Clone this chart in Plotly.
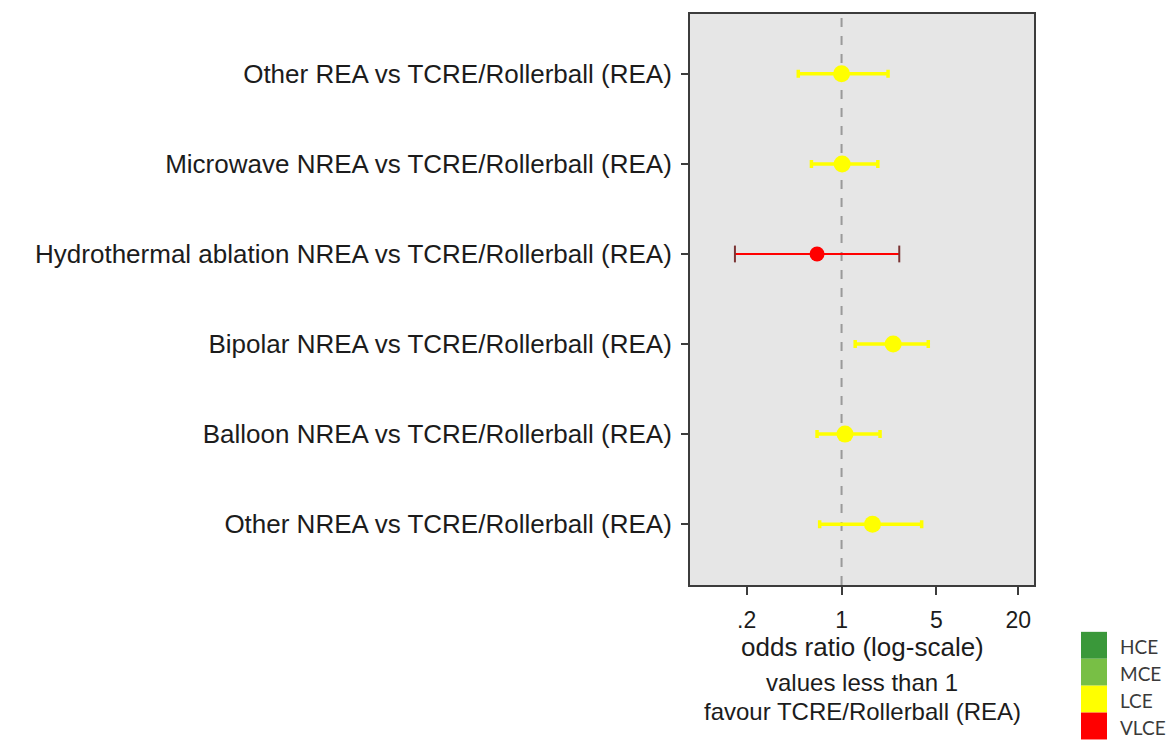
import plotly.graph_objects as go

# Comparisons, listed from bottom row to top row
comparisons = [
    "Other NREA vs TCRE/Rollerball (REA)",
    "Balloon NREA vs TCRE/Rollerball (REA)",
    "Bipolar NREA vs TCRE/Rollerball (REA)",
    "Hydrothermal ablation NREA vs TCRE/Rollerball (REA)",
    "Microwave NREA vs TCRE/Rollerball (REA)",
    "Other REA vs TCRE/Rollerball (REA)",
]
odds_ratio = [1.69, 1.06, 2.40, 0.66, 1.01, 1.00]
ci_lower = [0.69, 0.66, 1.26, 0.164, 0.60, 0.48]
ci_upper = [3.89, 1.92, 4.35, 2.66, 1.85, 2.20]
certainty = ["LCE", "LCE", "LCE", "VLCE", "LCE", "LCE"]

# Certainty-of-evidence key
grade_labels = ["HCE", "MCE", "LCE", "VLCE"]
grade_colors = ["#3a983a", "#78bf45", "#ffff00", "#ff0000"]
grade_color = dict(zip(grade_labels, grade_colors))

x_ticks = [0.2, 1, 5, 20]
x_tick_text = [".2", "1", "5", "20"]
NULL_OR = 1.0

TEXT = "#1c1c1c"
FONT = "Liberation Sans, Arial, sans-serif"

rows = list(range(1, len(comparisons) + 1))
y_range = [0.325, 6.664]

fig = go.Figure()

# reference line at OR = 1
fig.add_trace(go.Scatter(
    x=[NULL_OR, NULL_OR], y=y_range, mode="lines",
    line=dict(color="#9a9a9a", width=2, dash="dash"),
    hoverinfo="skip", showlegend=False,
))

for grade in ["LCE", "VLCE"]:
    idx = [i for i, g in enumerate(certainty) if g == grade]
    if not idx:
        continue
    col = grade_color[grade]
    xs = [odds_ratio[i] for i in idx]
    ys = [rows[i] for i in idx]
    plus = [ci_upper[i] - odds_ratio[i] for i in idx]
    minus = [odds_ratio[i] - ci_lower[i] for i in idx]
    is_red = grade == "VLCE"
    fig.add_trace(go.Scatter(
        x=xs, y=ys, mode="markers",
        marker=dict(color=col, size=15 if is_red else 17, line=dict(width=0)),
        error_x=dict(type="data", symmetric=False, array=plus, arrayminus=minus,
                     color=col, thickness=2 if is_red else 3.5,
                     width=0 if is_red else 4),
        showlegend=False,
    ))
    if is_red:
        # darker end caps on the interval
        fig.add_trace(go.Scatter(
            x=[ci_lower[i] for i in idx] + [ci_upper[i] for i in idx],
            y=ys + ys, mode="markers",
            marker=dict(symbol="line-ns", size=12, color="#7a3434",
                        line=dict(color="#7a3434", width=2)),
            showlegend=False, hoverinfo="skip",
        ))

fig.update_xaxes(
    type="log", range=[-1.116, 1.417],
    tickvals=x_ticks, ticktext=x_tick_text,
    ticks="outside", ticklen=8, tickwidth=1.5, tickcolor="#3c3c3c",
    tickfont=dict(size=23, color=TEXT, family=FONT),
    ticklabelstandoff=5,
    showgrid=False, zeroline=False,
    showline=True, mirror=True, linecolor="#3c3c3c", linewidth=2,
)
fig.update_yaxes(
    range=y_range, tickvals=rows, ticktext=comparisons,
    ticks="outside", ticklen=7, tickwidth=1.5, tickcolor="#3c3c3c",
    tickfont=dict(size=26, color=TEXT, family=FONT),
    ticklabelstandoff=4,
    showgrid=False, zeroline=False,
    showline=True, mirror=True, linecolor="#3c3c3c", linewidth=2,
)

L, R, T, B = 690, 140, 12, 155
W, H = 1174, 740
pw, ph = W - L - R, H - T - B


def px_x(px):
    return (px - L) / pw


def px_y(py):
    return (H - B - py) / ph


annotations = [
    dict(text="odds ratio (log-scale)", x=0.5, y=px_y(647), size=26),
    dict(text="values less than 1", x=0.5, y=px_y(683), size=24),
    dict(text="favour TCRE/Rollerball (REA)", x=0.5, y=px_y(712), size=24),
]
annotations = [dict(text=a["text"], x=a["x"], y=a["y"],
                    xref="paper", yref="paper", showarrow=False,
                    xanchor="center", yanchor="middle",
                    font=dict(size=a["size"], color=TEXT, family=FONT))
               for a in annotations]

shapes = []
block_top, block_h = 632, 27
for k, (lab, col) in enumerate(zip(grade_labels, grade_colors)):
    y0 = block_top + k * block_h
    shapes.append(dict(type="rect", xref="paper", yref="paper",
                       x0=px_x(1081), x1=px_x(1107),
                       y0=px_y(y0 + block_h), y1=px_y(y0),
                       fillcolor=col, line=dict(width=0), layer="above"))
    annotations.append(dict(text=lab, xref="paper", yref="paper",
                            x=px_x(1118), y=px_y(y0 + block_h / 2 + 1.5),
                            xanchor="left", yanchor="middle", showarrow=False,
                            font=dict(size=19, color="#3a3a3a",
                                      family="Lato, Open Sans, sans-serif")))

fig.update_layout(
    width=W, height=H, autosize=False,
    margin=dict(l=L, r=R, t=T, b=B, pad=0),
    plot_bgcolor="#e6e6e6", paper_bgcolor="white",
    annotations=annotations, shapes=shapes,
    showlegend=False,
)

fig.write_html("out.html")
